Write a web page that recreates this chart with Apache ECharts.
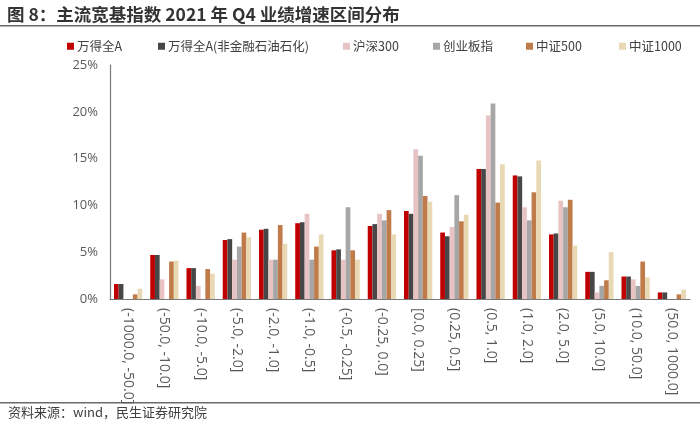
<!DOCTYPE html>
<html><head><meta charset="utf-8">
<script src="https://cdn.jsdelivr.net/npm/echarts@6/dist/echarts.min.js"></script>
<style>html,body{margin:0;padding:0;background:#fff}#c{width:700px;height:427px}</style>
</head><body><div id="c"></div>
<script>
var categories = ['(-1000.0, -50.0]','(-50.0, -10.0]','(-10.0, -5.0]','(-5.0, -2.0]','(-2.0, -1.0]','(-1.0, -0.5]','(-0.5, -0.25]','(-0.25, 0.0]','[0.0, 0.25]','(0.25, 0.5]','(0.5, 1.0]','(1.0, 2.0]','(2.0, 5.0]','(5.0, 10.0]','(10.0, 50.0]','(50.0, 1000.0]'];
var seriesNames = ['万得全A','万得全A(非金融石油石化)','沪深300','创业板指','中证500','中证1000'];
var wdqa     = [1.6, 4.7, 3.3, 6.3, 7.4, 8.1, 5.2, 7.8, 9.4, 7.1, 13.9, 13.2, 6.9, 2.9, 2.4, 0.7];
var wdqaExcl = [1.6, 4.7, 3.3, 6.4, 7.5, 8.2, 5.3, 8.0, 9.1, 6.7, 13.9, 13.1, 7.0, 2.9, 2.4, 0.7];
var hs300    = [0, 2.1, 1.4, 4.2, 4.2, 9.1, 4.2, 9.1, 16.0, 7.7, 19.6, 9.8, 10.5, 0.7, 2.1, 0];
var cybz     = [0, 0, 0, 5.6, 4.2, 4.2, 9.8, 8.4, 15.3, 11.1, 20.9, 8.4, 9.8, 1.4, 1.4, 0];
var zz500    = [0.5, 4.0, 3.2, 7.1, 7.9, 5.6, 5.2, 9.5, 11.0, 8.3, 10.3, 11.4, 10.6, 2.0, 4.0, 0.5];
var zz1000   = [1.1, 4.1, 2.7, 6.6, 5.9, 6.9, 4.2, 6.9, 10.4, 9.0, 14.4, 14.8, 5.7, 5.0, 2.3, 1.0];
var yTicks = [0, 5, 10, 15, 20, 25];

var colors = ['#C00000','#474747','#E8C3C4','#A6A6A6','#C07B4A','#E9D8B4'];
var allData = [wdqa, wdqaExcl, hs300, cybz, zz500, zz1000];
var legendLefts = [67, 158, 343, 433, 526, 619];

var chart = echarts.init(document.getElementById('c'));
var ff = '"Noto Sans CJK SC", "Noto Sans", sans-serif';
var legends = seriesNames.map(function(n, i){
  return {data:[n], left: legendLefts[i], top: 40, padding:0, icon:'rect', itemWidth:7, itemHeight:7, itemGap:0,
    textStyle:{color:'#404040', fontSize:12.5, fontFamily: ff, padding:[0,0,0,-2]}, selectedMode:false};
});
chart.setOption({
  animation:false,
  textStyle:{fontFamily: ff},
  title:{text:'图 8：主流宽基指数 2021 年 Q4 业绩增速区间分布', left:2, top:1,
    textStyle:{fontSize:17.5, fontWeight:'bold', color:'#333', fontFamily: ff}},
  legend: legends,
  grid:{left:110, right:10, top:65, bottom:128},
  xAxis:{type:'category', data:categories,
    axisLine:{lineStyle:{color:'#7a7a7a', width:1.2}}, axisTick:{show:false},
    axisLabel:{interval:0, rotate:-90, margin:9, fontSize:14, color:'#595959', fontFamily:'"Open Sans", sans-serif'}},
  yAxis:{type:'value', min:yTicks[0], max:yTicks[yTicks.length-1], interval:5,
    axisLine:{show:true, lineStyle:{color:'#7a7a7a', width:1.2}}, axisTick:{show:false},
    splitLine:{show:false},
    axisLabel:{formatter:'{value}%', fontSize:13, color:'#595959', margin:12, fontFamily:'"Open Sans", sans-serif'}},
  series: allData.map(function(d, i){
    return {name: seriesNames[i], type:'bar', data:d, barGap:'0%', barCategoryGap:'22%',
      itemStyle:{color: colors[i]}};
  }),
  graphic:[
    {type:'rect', shape:{x:0, y:25, width:700, height:1.5}, style:{fill:'#6b6b6b'}},
    {type:'rect', shape:{x:0, y:402, width:700, height:1.5}, style:{fill:'#6b6b6b'}},
    {type:'text', left:8, top:406, style:{text:'资料来源：wind，民生证券研究院', fill:'#404040', font:'13px '+ff}}
  ]
});
</script></body></html>
